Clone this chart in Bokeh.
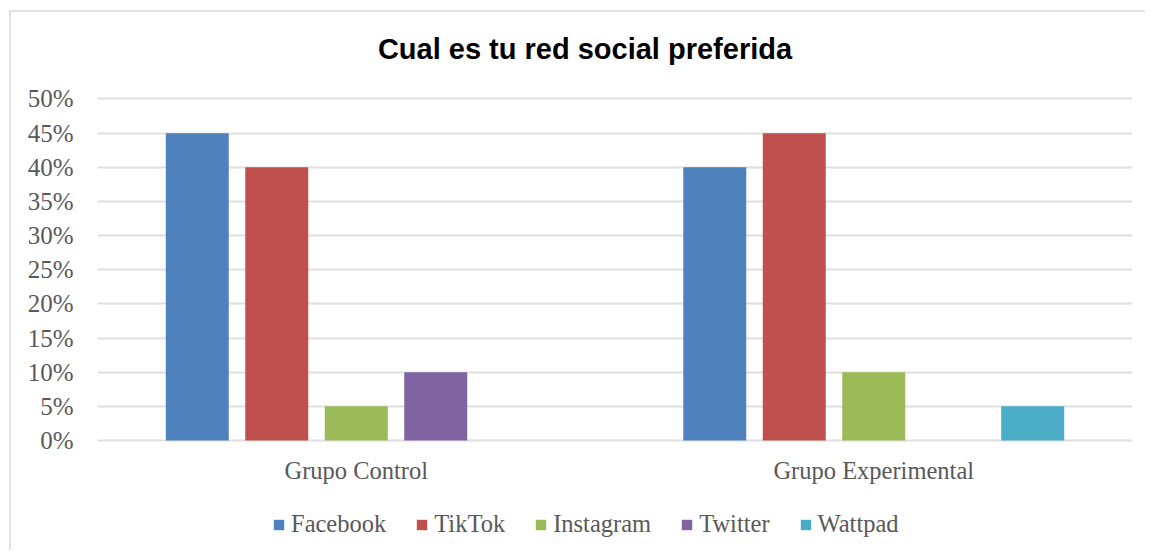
from bokeh.plotting import figure
from bokeh.models import (FactorRange, Range1d, FixedTicker, NumeralTickFormatter,
                          Label, ColumnDataSource, Legend)
from bokeh.core.properties import value
from bokeh.transform import dodge
from bokeh.embed import file_html
from bokeh.resources import INLINE

groups = ["Grupo Control", "Grupo Experimental"]
series = ["Facebook", "TikTok", "Instagram", "Twitter", "Wattpad"]
facebook = [0.45, 0.40]
tiktok = [0.40, 0.45]
instagram = [0.05, 0.10]
twitter = [0.10, 0.0]
wattpad = [0.0, 0.05]
colors = ["#4F81BD", "#C0504D", "#9BBB59", "#8064A2", "#4BACC6"]
y_ticks = [0, 0.05, 0.10, 0.15, 0.20, 0.25, 0.30, 0.35, 0.40, 0.45, 0.50]
title_text = "Cual es tu red social preferida"

source = ColumnDataSource(dict(group=groups, Facebook=facebook, TikTok=tiktok,
                               Instagram=instagram, Twitter=twitter, Wattpad=wattpad))

# frame extends above 50% (title) and below 0% (category labels, legend)
p = figure(width=1136, height=540, output_backend="svg", toolbar_location=None,
           x_range=FactorRange(*groups, range_padding=0), y_range=Range1d(-0.1567, 0.6193),
           min_border_left=86, min_border_right=15, min_border_top=5, min_border_bottom=5,
           styles={"margin-left": "9px", "margin-top": "10px",
                   "border-left": "2px solid #e2e2e2", "border-top": "2px solid #e2e2e2"})
p.outline_line_color = None
p.background_fill_color = "white"
p.border_fill_color = "white"

step = 0.1536
width = 0.1217
items = []
for i, (name, col) in enumerate(zip(series, colors)):
    r = p.vbar(x=dodge("group", (i - 2) * step, range=p.x_range), top=name, width=width,
               source=source, fill_color=col, line_color=None)
    items.append((name, [r]))

serif = "Liberation Serif"
grey = "#595959"

p.yaxis.ticker = FixedTicker(ticks=y_ticks)
p.yaxis.formatter = NumeralTickFormatter(format="0%")
p.yaxis.axis_line_color = None
p.yaxis.major_tick_line_color = None
p.yaxis.minor_tick_line_color = None
p.yaxis.major_tick_out = 0
p.yaxis.major_label_standoff = 24
p.yaxis.major_label_text_font = serif
p.yaxis.major_label_text_font_size = "25px"
p.yaxis.major_label_text_color = grey

p.xaxis.visible = False
p.xgrid.grid_line_color = None
p.ygrid.grid_line_color = "#e0e0e0"
p.ygrid.grid_line_width = 2

# category labels under the bars
p.text(x="group", y=-0.0440, text="group", source=source, text_align="center",
       text_baseline="alphabetic", text_font=value(serif), text_font_size="24.5px",
       text_color=grey)

title = Label(x=0.942, y=0.5725, text=title_text, text_align="center",
              text_baseline="alphabetic", text_font="Liberation Sans",
              text_font_style="bold", text_font_size="29px", text_color="black")
p.add_layout(title)

lg = Legend(items=items, orientation="horizontal", location=(175, 9),
            padding=0, margin=0, spacing=29, glyph_width=13, glyph_height=13,
            label_standoff=6, label_height=25, label_text_font=serif,
            label_text_font_size="24.5px", label_text_color=grey,
            border_line_color=None, background_fill_alpha=0)
p.add_layout(lg, "center")

open("out.html", "w").write(file_html(p, INLINE))
